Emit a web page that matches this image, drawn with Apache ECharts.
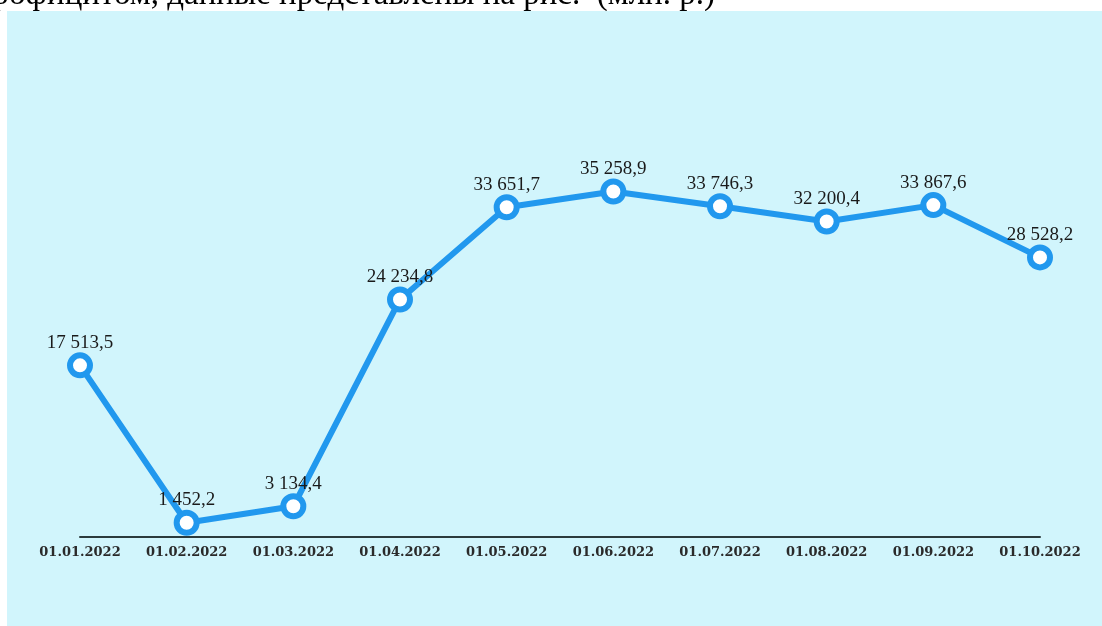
<!DOCTYPE html>
<html>
<head>
<meta charset="utf-8">
<script src="https://cdn.jsdelivr.net/npm/echarts@6/dist/echarts.min.js"></script>
<style>
html,body{margin:0;padding:0;background:#fff;}
#chart{width:1102px;height:626px;}
</style>
</head>
<body>
<div id="chart"></div>
<script>
const categories = ['01.01.2022','01.02.2022','01.03.2022','01.04.2022','01.05.2022','01.06.2022','01.07.2022','01.08.2022','01.09.2022','01.10.2022'];
const values = [17513.5, 1452.2, 3134.4, 24234.8, 33651.7, 35258.9, 33746.3, 32200.4, 33867.6, 28528.2];
const captionText = 'профицитом, данные представлены на рис.  (млн. р.)';

function fmt(v){
  const parts = v.toFixed(1).split('.');
  const intPart = parts[0].replace(/\B(?=(\d{3})+(?!\d))/g, ' ');
  return intPart + ',' + parts[1];
}

const chart = echarts.init(document.getElementById('chart'), null, {renderer:'canvas'});
chart.setOption({
  animation:false,
  backgroundColor:'#ffffff',
  graphic:[
    {type:'text', right:1102-715, top:-21, z:1, style:{text:captionText, font:'33px "Liberation Serif", serif', fill:'#000'}},
    {type:'rect', left:7, top:11, z:2, silent:true, shape:{width:1095, height:615}, style:{fill:'#d1f5fc'}}
  ],
  grid:{left:80, right:62, top:145, bottom:89, z:5},
  xAxis:{
    type:'category', data:categories, boundaryGap:false, z:5,
    axisLine:{show:true, lineStyle:{color:'#2b3a3c', width:2}},
    axisTick:{show:false},
    axisLabel:{color:'#2a2a2a', fontFamily:'"DejaVu Serif", serif', fontWeight:'bold', fontSize:13, margin:9}
  },
  yAxis:{type:'value', min:0, max:40000, show:false, splitLine:{show:false}},
  series:[{
    type:'line', data:values, z:6,
    symbol:'circle', symbolSize:20,
    lineStyle:{color:'#2198ee', width:6},
    itemStyle:{color:'#ffffff', borderColor:'#2198ee', borderWidth:6},
    label:{show:true, position:'top', distance:0, color:'#1a1a1a', fontFamily:'"Liberation Serif", serif', fontSize:19,
      formatter:p=>fmt(p.value)}
  }]
});
</script>
</body>
</html>
